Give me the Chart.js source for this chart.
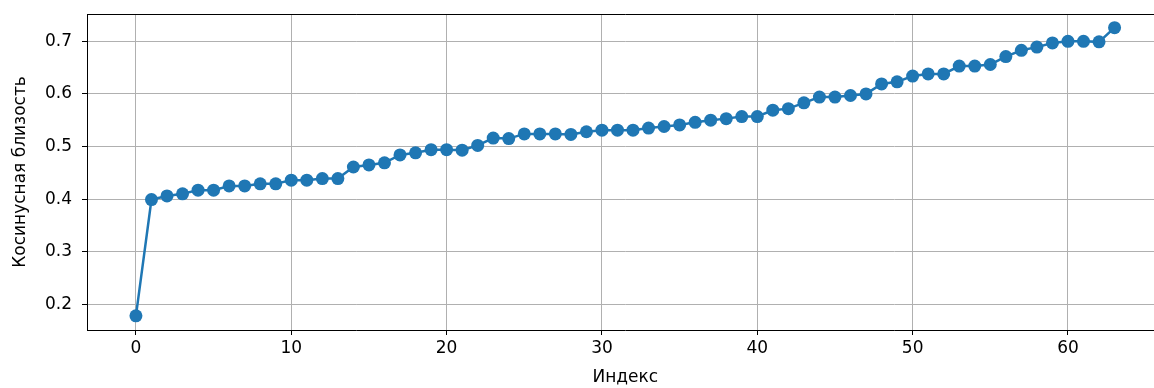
<!DOCTYPE html>
<html>
<head>
<meta charset="utf-8">
<script src="https://cdn.jsdelivr.net/npm/chart.js@4.4.1/dist/chart.umd.min.js"></script>
<style>
html,body{margin:0;padding:0;background:#fff;overflow:hidden;}
#wrap{width:1170px;height:388px;}
</style>
</head>
<body>
<div id="wrap"><canvas id="c" width="1170" height="388"></canvas></div>
<script>
const xTitle = "Индекс";
const yTitle = "Косинусная близость";
const xTicks = [0, 10, 20, 30, 40, 50, 60];
const yTicks = [0.2, 0.3, 0.4, 0.5, 0.6, 0.7];
const similarity = [
  0.178, 0.399, 0.406, 0.410, 0.417, 0.417, 0.425, 0.425, 0.429, 0.429,
  0.436, 0.436, 0.439, 0.439, 0.461, 0.465, 0.469, 0.484, 0.488, 0.494,
  0.494, 0.493, 0.502, 0.516, 0.515, 0.524, 0.524, 0.524, 0.523, 0.528,
  0.531, 0.531, 0.531, 0.535, 0.538, 0.541, 0.546, 0.550, 0.553, 0.557,
  0.557, 0.569, 0.572, 0.583, 0.594, 0.594, 0.597, 0.600, 0.619, 0.623,
  0.634, 0.638, 0.638, 0.653, 0.653, 0.656, 0.671, 0.683, 0.689, 0.697,
  0.700, 0.700, 0.699, 0.726
];

const points = similarity.map((v, i) => ({x: i, y: v}));
const FONT = "'DejaVu Sans', sans-serif";

const frame = {
  id: 'frame',
  afterDraw(chart) {
    const {ctx, chartArea: a} = chart;
    ctx.save();
    ctx.strokeStyle = '#000';
    ctx.lineWidth = 1;
    ctx.beginPath();
    ctx.moveTo(a.left, a.top + 0.5);
    ctx.lineTo(a.right, a.top + 0.5);
    ctx.stroke();
    ctx.restore();
  }
};

new Chart(document.getElementById('c'), {
  type: 'line',
  data: {
    datasets: [{
      data: points,
      borderColor: '#1f77b4',
      backgroundColor: '#1f77b4',
      borderWidth: 2.5,
      pointRadius: 6.5,
      pointHoverRadius: 6.5,
      pointBorderWidth: 0,
      tension: 0,
      fill: false
    }]
  },
  options: {
    responsive: false,
    animation: false,
    events: [],
    layout: {padding: {top: 14, right: 5, left: 0, bottom: 0}},
    plugins: {legend: {display: false}, tooltip: {enabled: false}},
    scales: {
      x: {
        type: 'linear',
        min: -3.15,
        max: 66.15,
        afterBuildTicks: s => { s.ticks = xTicks.map(v => ({value: v})); },
        afterFit: s => { s.height = 58; s.paddingLeft = 0; s.paddingRight = 0; },
        grid: {color: '#b0b0b0', lineWidth: 1, tickColor: '#000', tickLength: 5, drawTicks: true},
        border: {display: true, color: '#000', width: 1},
        ticks: {font: {family: FONT, size: 17}, color: '#000', padding: 3, maxRotation: 0},
        title: {display: true, text: xTitle, font: {family: FONT, size: 17}, color: '#000', padding: {top: 0, bottom: 0}}
      },
      y: {
        type: 'linear',
        min: 0.151,
        max: 0.752,
        afterBuildTicks: s => { s.ticks = yTicks.map(v => ({value: v})); },
        afterFit: s => { s.width = 87; s.paddingTop = 0; s.paddingBottom = 0; },
        grid: {color: '#b0b0b0', lineWidth: 1, tickColor: '#000', tickLength: 5, drawTicks: true},
        border: {display: true, color: '#000', width: 1},
        ticks: {font: {family: FONT, size: 17}, color: '#000', padding: 10, callback: v => v.toFixed(1)},
        title: {display: true, text: yTitle, font: {family: FONT, size: 17}, color: '#000', padding: {top: 10, bottom: 0}}
      }
    }
  },
  plugins: [frame]
});
</script>
</body>
</html>
